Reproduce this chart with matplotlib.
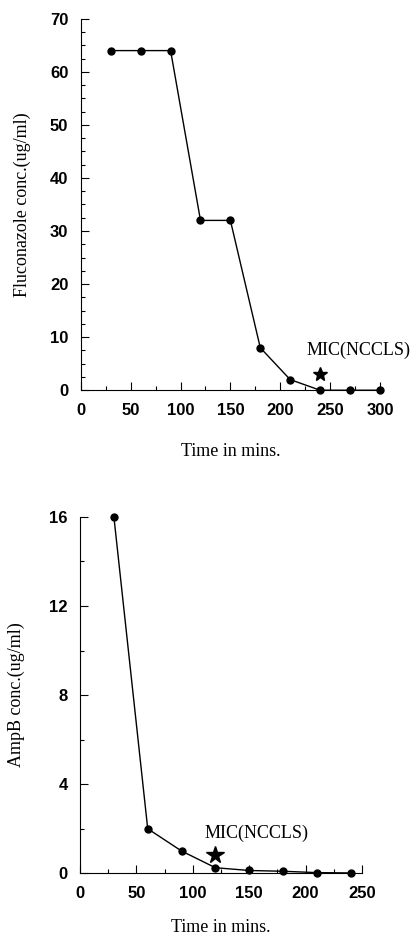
import numpy as np
import matplotlib
matplotlib.use('Agg')
import matplotlib.pyplot as plt
from matplotlib.ticker import MultipleLocator

# fluconazole, top panel
time_flu = [30, 60, 90, 120, 150, 180, 210, 240, 270, 300]
conc_flu = [64, 64, 64, 32, 32, 8, 2, 0, 0, 0]
mic_flu = (240, 3)

# amphotericin B, bottom panel
time_amp = [30, 60, 90, 120, 150, 180, 210, 240]
conc_amp = [16, 2, 1, 0.25, 0.125, 0.09, 0.03, 0.015]
mic_amp = (120, 0.8)

tick_font = {'family': 'Liberation Sans', 'weight': 'bold', 'size': 12}
label_font = {'family': 'Liberation Serif', 'size': 13}

fig = plt.figure(figsize=(4.17, 9.38), dpi=100)

def style(ax, xmax, ymax, xmaj, xmin, ymaj, ymin):
	ax.set_xlim(0, xmax)
	ax.set_ylim(0, ymax)
	ax.spines['top'].set_visible(False)
	ax.spines['right'].set_visible(False)
	ax.xaxis.set_major_locator(MultipleLocator(xmaj))
	ax.xaxis.set_minor_locator(MultipleLocator(xmin))
	ax.yaxis.set_major_locator(MultipleLocator(ymaj))
	ax.yaxis.set_minor_locator(MultipleLocator(ymin))
	ax.tick_params(which='major', direction='in', length=6, width=0.8, pad=9)
	ax.tick_params(which='minor', direction='in', length=3, width=0.8)
	for lab in ax.get_xticklabels() + ax.get_yticklabels():
		lab.set_fontproperties(matplotlib.font_manager.FontProperties(**tick_font))
	ax.set_xlabel('Time in mins.', fontdict=label_font, labelpad=18)

ax1 = fig.add_axes([0.194, 0.584, 0.717, 0.396])
ax1.plot(time_flu, conc_flu, '-o', color='black', lw=1, markersize=5, clip_on=False, zorder=3)
ax1.plot(*mic_flu, marker='*', color='black', markersize=10, linestyle='none', clip_on=False)
ax1.text(226, 7.5, 'MIC(NCCLS)', fontdict=label_font, va='center', ha='left')
style(ax1, 300, 70, 50, 25, 10, 2.5)
ax1.set_ylabel('Fluconazole conc.(ug/ml)', fontdict=label_font, labelpad=14)

ax2 = fig.add_axes([0.192, 0.069, 0.676, 0.380])
ax2.plot(time_amp, conc_amp, '-o', color='black', lw=1, markersize=5, clip_on=False, zorder=3)
ax2.plot(*mic_amp, marker='*', color='black', markersize=13, linestyle='none', clip_on=False)
ax2.text(110, 1.8, 'MIC(NCCLS)', fontdict=label_font, va='center', ha='left')
style(ax2, 250, 16, 50, 25, 4, 2)
ax2.set_ylabel('AmpB conc.(ug/ml)', fontdict=label_font, labelpad=17)
ax2.xaxis.labelpad = 13

fig.savefig('out.png', dpi=100)
